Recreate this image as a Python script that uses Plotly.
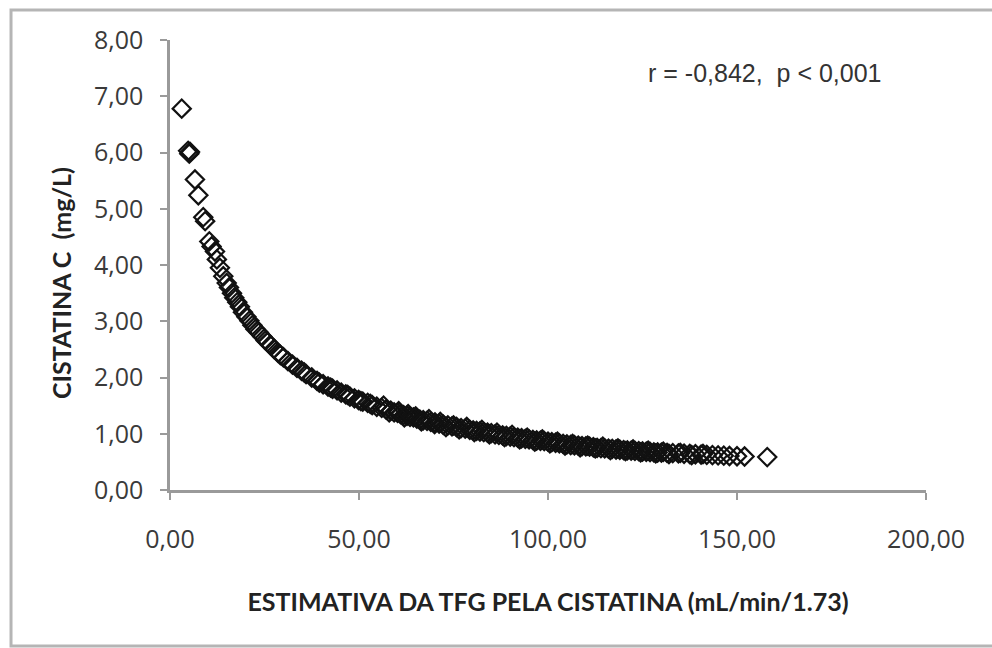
import plotly.graph_objects as go

# eGFR estimated from cystatin (mL/min/1.73) and cystatin C (mg/L)
tfg = [3.1, 4.8, 5.1, 5.3, 6.6, 7.5, 8.8, 9.3, 10.4, 11.0, 11.9, 12.4, 13.2, 14.1, 15.0, 15.6,
       16.4, 17.0, 17.8, 18.5, 19.3, 20.2, 21.0, 21.8, 22.6, 23.5, 24.4, 25.3, 26.5, 27.5, 28.6,
       30.0, 31.2, 32.4, 33.6, 34.8, 36.0, 37.5, 38.9, 40.5, 41.8, 43.0, 44.2, 45.3, 46.5, 47.6,
       48.8, 49.9, 51.0, 52.3, 53.5, 54.7, 56.0, 57.2, 58.4, 59.3, 60.2, 61.0, 61.8, 62.7, 63.5,
       64.4, 65.3, 66.1, 67.0, 68.0, 69.0, 70.1, 71.2, 72.3, 73.5, 74.6, 75.8, 77.0, 78.1, 79.3,
       80.2, 81.1, 82.0, 83.0, 84.0, 85.0, 86.0, 87.0, 88.0, 89.0, 90.0, 91.0, 92.0, 93.0, 94.0,
       95.0, 96.0, 97.0, 98.0, 99.0, 100.0, 101.0, 102.0, 103.0, 104.0, 105.0, 106.0, 107.0,
       108.0, 109.0, 110.0, 111.0, 112.0, 113.0, 114.0, 115.0, 116.0, 117.0, 118.0, 119.0, 120.0,
       121.0, 122.0, 123.0, 124.0, 125.0, 126.0, 127.0, 128.0, 129.0, 130.0, 131.5, 133.0, 134.5,
       136.0, 137.5, 139.0, 140.5, 142.0, 143.5, 145.0, 146.5, 148.0, 150.0, 152.0, 158.0,
       25.8, 29.2, 35.5, 39.5, 42.5, 47.0, 50.5, 53.0, 56.5, 58.0, 60.5, 62.0, 63.0, 65.0, 66.5,
       68.5, 70.0, 71.5, 73.0, 75.0, 76.5, 78.5, 80.5, 82.5, 84.5, 86.5, 88.5, 90.5, 92.5, 94.5,
       96.5, 98.5, 100.5, 102.5, 104.5, 106.5, 108.5, 110.5, 112.5, 114.5, 116.5, 118.5, 120.5,
       122.5, 124.5, 126.5, 128.5, 130.5, 132.0, 135.0, 138.0, 141.0]
cistatina = [6.78, 6.03, 5.98, 6.01, 5.52, 5.24, 4.85, 4.78, 4.42, 4.33, 4.24, 4.10, 3.95, 3.80,
             3.68, 3.60, 3.50, 3.42, 3.34, 3.26, 3.16, 3.08, 3.01, 2.93, 2.86, 2.80, 2.73, 2.66,
             2.58, 2.51, 2.44, 2.36, 2.29, 2.23, 2.17, 2.12, 2.06, 2.00, 1.94, 1.88, 1.84, 1.80,
             1.77, 1.73, 1.70, 1.66, 1.63, 1.60, 1.57, 1.55, 1.51, 1.48, 1.46, 1.43, 1.41, 1.38,
             1.37, 1.35, 1.33, 1.32, 1.30, 1.29, 1.27, 1.25, 1.24, 1.23, 1.21, 1.20, 1.18, 1.16,
             1.15, 1.13, 1.12, 1.10, 1.09, 1.07, 1.06, 1.05, 1.04, 1.03, 1.02, 1.01, 0.99, 0.98,
             0.97, 0.96, 0.95, 0.94, 0.93, 0.92, 0.91, 0.90, 0.89, 0.88, 0.875, 0.87, 0.86, 0.85,
             0.84, 0.83, 0.82, 0.81, 0.80, 0.795, 0.79, 0.78, 0.775, 0.77, 0.76, 0.75, 0.745, 0.74,
             0.735, 0.73, 0.72, 0.715, 0.71, 0.705, 0.70, 0.695, 0.69, 0.685, 0.68, 0.675, 0.67,
             0.667, 0.663, 0.66, 0.655, 0.65, 0.645, 0.64, 0.635, 0.63, 0.625, 0.62, 0.615, 0.61,
             0.605, 0.60, 0.595, 0.585,
             2.63, 2.40, 2.09, 1.91, 1.82, 1.69, 1.58, 1.53, 1.50, 1.38, 1.40, 1.29, 1.35, 1.31,
             1.22, 1.26, 1.17, 1.21, 1.12, 1.15, 1.08, 1.12, 1.03, 1.07, 0.99, 1.02, 0.94, 0.98,
             0.90, 0.93, 0.86, 0.90, 0.83, 0.86, 0.79, 0.82, 0.76, 0.79, 0.74, 0.77, 0.71, 0.74,
             0.69, 0.72, 0.67, 0.70, 0.65, 0.68, 0.64, 0.66, 0.62, 0.64]

x_tick_values = [0, 50, 100, 150, 200]
x_tick_labels = ["0,00", "50,00", "100,00", "150,00", "200,00"]
y_tick_values = [0, 1, 2, 3, 4, 5, 6, 7, 8]
y_tick_labels = ["0,00", "1,00", "2,00", "3,00", "4,00", "5,00", "6,00", "7,00", "8,00"]

x_title = "ESTIMATIVA DA TFG PELA CISTATINA (mL/min/1.73)"
y_title = "CISTATINA C  (mg/L)"
stat_text = "r = -0,842,  p < 0,001"

fig = go.Figure()
fig.add_trace(go.Scatter(
    x=tfg, y=cistatina, mode="markers",
    marker=dict(symbol="diamond-open", size=14, color="#111111",
                line=dict(width=2.2, color="#111111")),
    cliponaxis=False, showlegend=False,
))

axis_common = dict(showgrid=False, zeroline=False, showline=True, linecolor="#9a9a9a",
                   linewidth=2.5, ticks="outside", ticklen=7, tickwidth=2, tickcolor="#9a9a9a",
                   automargin=False,
                   tickfont=dict(family="Open Sans", size=25, color="#3a3a3a"))

fig.update_xaxes(range=[0, 200], tickvals=x_tick_values, ticktext=x_tick_labels,
                 ticklabelstandoff=18,
                 title=dict(text=x_title, standoff=40,
                            font=dict(family="Lato", size=25, color="#222222", weight="bold")),
                 **axis_common)
fig.update_yaxes(range=[0, 8], tickvals=y_tick_values, ticktext=y_tick_labels,
                 ticklabelstandoff=12, **axis_common)

# y-axis title (placed as in the reference, slightly below the axis centre)
fig.add_annotation(x=-0.1442, y=0.46, xref="paper", yref="paper", text=y_title,
                   textangle=-90, xanchor="center", yanchor="middle", showarrow=False,
                   font=dict(family="Lato", size=25, color="#222222", weight="bold"))

fig.add_annotation(x=0.787, y=0.927, xref="paper", yref="paper", text=stat_text,
                   xanchor="center", yanchor="middle",
                   showarrow=False, font=dict(family="Liberation Sans", size=25, color="#333333"))

# outer chart frame (its right edge lies beyond the picture)
fig.add_shape(type="rect", xref="paper", yref="paper", x0=-0.2103, x1=1.3, y0=-0.3467, y1=1.0667,
              line=dict(color="#b5b5b5", width=3), fillcolor="rgba(0,0,0,0)", layer="below")

fig.update_layout(width=992, height=648, margin=dict(l=170, r=66, t=40, b=158),
                  plot_bgcolor="white", paper_bgcolor="white")

# remove the default 8px page margin so the 992x648 figure fills the window exactly
fig.write_html("out.html", config={"displayModeBar": False},
               post_script="document.body.style.margin='0';"
                           "document.documentElement.style.overflow='hidden';")
